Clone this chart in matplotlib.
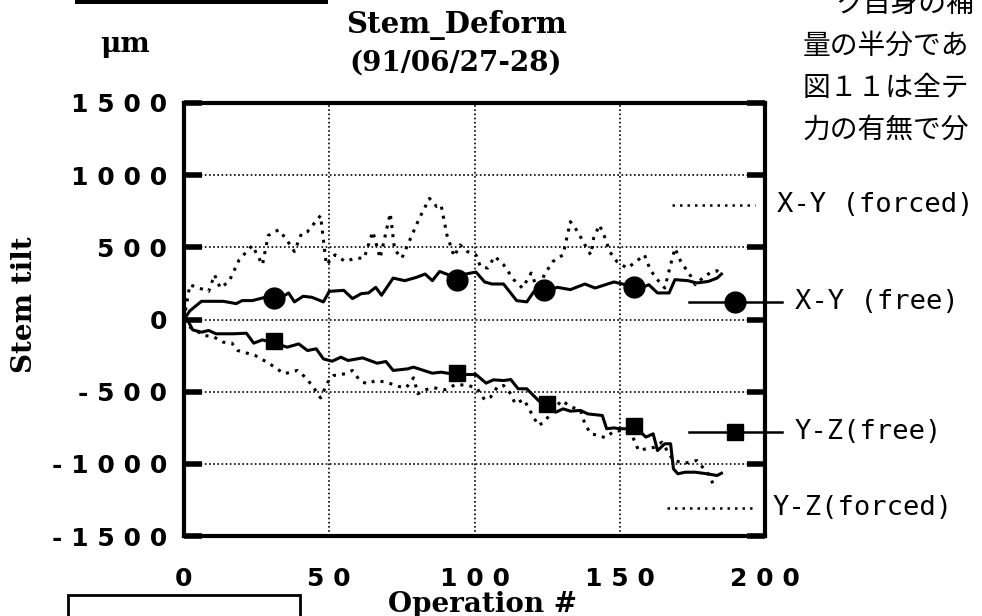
import matplotlib
matplotlib.use("Agg")
import matplotlib.pyplot as plt
from matplotlib.patches import Rectangle

# ---- data ----
xy_free_x = [0, 2, 6, 13.5, 18, 20, 23.5, 28, 32, 36, 38, 41, 44, 48, 50, 55, 58, 61, 63.5,
             66, 68, 72, 76, 80, 83, 85.5, 88, 91, 94, 97, 100.5, 103.5, 106, 110, 114.5,
             118, 120.5, 124.5, 128.5, 133, 138, 141.5, 148, 152, 156, 160, 163, 167, 169,
             173.5, 176.5, 180.5, 183.5, 185]
xy_free_y = [0, 60, 126, 126, 110, 131, 131, 154, 133, 184, 122, 161, 154, 122, 195, 202,
             145, 179, 184, 223, 168, 287, 269, 292, 315, 269, 333, 310, 264, 315, 329, 260,
             246, 246, 131, 122, 195, 195, 223, 207, 246, 218, 260, 241, 207, 241, 184, 184,
             276, 269, 253, 264, 287, 315]
xy_free_mx = [31, 94, 124, 155]
xy_free_my = [150, 276, 207, 227]

xy_forced_x = [0, 2, 8.5, 10.5, 12.5, 15.5, 19, 23.5, 27, 29, 32.5, 35, 38, 40.5, 42.5, 47,
               49, 52, 55.5, 59, 62, 65, 67.5, 71, 72.5, 75, 78, 81, 84.5, 87, 88.5, 90.5,
               93, 95, 97.5, 100.5, 102, 104.5, 107, 110, 113.5, 116.5, 119.5, 122, 124,
               127, 130.5, 133, 135.5, 138, 140, 141, 143, 145, 146.5, 149, 152.5, 155,
               158.5, 160.5, 162.5, 165.5, 167.5, 169, 171, 174.5, 176, 178.5, 181, 183.5, 185]
xy_forced_y = [0, 240, 195, 310, 218, 264, 414, 513, 379, 582, 621, 563, 471, 598, 609, 720,
               379, 448, 402, 425, 425, 609, 425, 736, 483, 425, 563, 701, 839, 782, 793, 586,
               437, 517, 471, 448, 368, 356, 437, 379, 276, 218, 322, 195, 310, 402, 448, 678,
               609, 517, 448, 563, 655, 563, 471, 402, 356, 391, 448, 345, 287, 218, 379, 494,
               402, 299, 241, 287, 322, 338, 310]

yz_free_x = [0, 1, 3, 6, 8.5, 11, 17, 21.5, 24, 27, 32, 35.5, 39.5, 42.5, 45.5, 48, 51,
             54, 56.5, 61.5, 66.5, 69.5, 72, 77, 79, 82.5, 85.5, 88.5, 93.5, 100.5, 104,
             106.5, 110, 112.5, 115, 118, 122, 124.5, 128, 130.5, 133, 136.5, 139, 144,
             145.5, 148, 150, 156, 159, 161.5, 163, 165.5, 167.5, 168.5, 170, 172.5, 176,
             180, 183.5, 185]
yz_free_y = [0, 5, -72, -88, -76, -99, -99, -95, -164, -141, -169, -192, -169, -215, -203,
             -273, -289, -261, -284, -266, -303, -291, -353, -342, -330, -353, -372, -365,
             -381, -381, -441, -418, -423, -416, -480, -480, -561, -596, -642, -619, -635,
             -630, -654, -665, -757, -751, -757, -757, -815, -792, -908, -861, -861, -1035,
             -1069, -1058, -1058, -1069, -1081, -1065]
yz_free_mx = [31, 94, 125, 155]
yz_free_my = [-152, -373, -588, -740]

yz_forced_x = [0, 2, 7, 10, 13.5, 16.5, 18.5, 24.5, 29.5, 34.5, 39, 42, 44.5, 47, 49.5,
               51.5, 55.5, 58, 60.5, 63, 66, 69.5, 74, 76.5, 79, 80.5, 83, 86, 90, 93.5,
               98, 101, 103.5, 105.5, 108, 110, 112.5, 114, 117, 120, 122, 124, 127, 130,
               133, 136.5, 138, 140, 143, 145, 148, 152, 154.5, 156.5, 159, 162, 164.5,
               167, 168.5, 172.5, 176.5, 179, 181, 182.5]
yz_forced_y = [0, -53, -111, -118, -157, -164, -215, -249, -307, -376, -353, -404, -469,
               -543, -434, -388, -376, -353, -423, -446, -423, -434, -464, -473, -404, -515,
               -487, -473, -487, -450, -457, -480, -557, -538, -464, -457, -515, -584, -554,
               -665, -734, -711, -630, -561, -603, -630, -723, -792, -804, -820, -774, -769,
               -815, -908, -896, -885, -850, -931, -977, -995, -977, -1035, -1081, -1162]

x_ticks = [0, 50, 100, 150, 200]
x_tick_labels = ["0", "5 0", "1 0 0", "1 5 0", "2 0 0"]
y_ticks = [-1500, -1000, -500, 0, 500, 1000, 1500]
y_tick_labels = ["- 1 5 0 0", "- 1 0 0 0", "- 5 0 0", "0", "5 0 0", "1 0 0 0", "1 5 0 0"]

legend_labels = ["X-Y (forced)", "X-Y (free)", "Y-Z(free)", "Y-Z(forced)"]

jp_lines = ["ク自身の補", "量の半分であ", "図１１は全テ", "力の有無で分"]

DOT = (0, (1.0, 2.0))

W, H = 982, 616
fig = plt.figure(figsize=(W / 100, H / 100), dpi=100)
L, R, T, B = 184, 765, 103, 536
ax = fig.add_axes([L / W, 1 - B / H, (R - L) / W, (B - T) / H])

ax.plot(xy_forced_x, xy_forced_y, color="black", lw=2.2, ls=DOT)
ax.plot(yz_forced_x, yz_forced_y, color="black", lw=2.2, ls=DOT)
ax.plot(xy_free_x, xy_free_y, color="black", lw=2.2)
ax.plot(yz_free_x, yz_free_y, color="black", lw=2.2)
ax.plot(xy_free_mx, xy_free_my, "o", color="black", ms=15, ls="none")
ax.plot(yz_free_mx, yz_free_my, "s", color="black", ms=12, ls="none")

ax.set_xlim(0, 200)
ax.set_ylim(-1500, 1500)
ax.set_xticks(x_ticks)
ax.set_xticklabels(x_tick_labels, fontsize=18, fontweight="bold")
ax.set_yticks(y_ticks)
ax.set_yticklabels(y_tick_labels, fontsize=18, fontweight="bold")
ax.tick_params(axis="y", direction="in", length=13, width=4, left=True, right=True, pad=12)
ax.tick_params(axis="x", length=0, pad=22)
ax.grid(True, color="black", lw=1.2, ls=(0, (1, 1.5)))
for s in ax.spines.values():
    s.set_linewidth(3)

# legend: samples sit inside the frame, labels outside (as in the scan)
def px(x, y):
    return (x - L) / (R - L), (B - y) / (B - T)

leg = [
    (legend_labels[0], 672, 755, 205, None, DOT, 777),
    (legend_labels[1], 689, 782, 302, "o", "-", 795),
    (legend_labels[2], 689, 782, 432, "s", "-", 795),
    (legend_labels[3], 667, 755, 508, None, DOT, 773),
]
for lab, x0, x1, y, mk, ls, tx in leg:
    a0, b = px(x0, y)
    a1, _ = px(x1, y)
    ax.plot([a0, a1], [b, b], transform=ax.transAxes, color="black",
            lw=1.8, ls=ls, clip_on=False)
    if mk:
        am, _ = px(735, y)
        ax.plot([am], [b], mk, transform=ax.transAxes, color="black",
                ms=15 if mk == "o" else 12, clip_on=False)
    ax.text(px(tx, y)[0], b, lab, transform=ax.transAxes, fontsize=19.5,
            family="DejaVu Sans Mono", va="center", ha="left")

serif = dict(family="DejaVu Serif", fontweight="bold")
fig.text(456 / W, 1 - 25 / H, "Stem_Deform", ha="center", va="center", fontsize=21, **serif)
fig.text(456 / W, 1 - 63 / H, "(91/06/27-28)", ha="center", va="center", fontsize=20, **serif)
fig.text(125 / W, 1 - 44 / H, "μm", ha="center", va="center", fontsize=20, **serif)
fig.text(25 / W, 1 - 305 / H, "Stem tilt", ha="center", va="center", rotation=90,
         fontsize=20, **serif)
fig.text(483 / W, 1 - 591 / H, "Operation #", ha="center", va="top", fontsize=20, **serif)

# surrounding page text and rules from the scan
jp_pos = [(835, 4), (803, 46), (803, 88), (803, 130)]
for line, (jx, jy) in zip(jp_lines, jp_pos):
    fig.text(jx / W, 1 - jy / H, line, ha="left", va="center",
             fontsize=20, family="Noto Sans CJK JP")
fig.add_artist(Rectangle((75 / W, 1 - 4 / H), 253 / W, 4 / H, transform=fig.transFigure,
                         color="black", lw=0))
fig.add_artist(Rectangle((68 / W, -0.05), 232 / W, 0.05 + (616 - 595) / H,
                         transform=fig.transFigure, fill=False, lw=2, ec="black"))

fig.savefig("out.png", dpi=100)
